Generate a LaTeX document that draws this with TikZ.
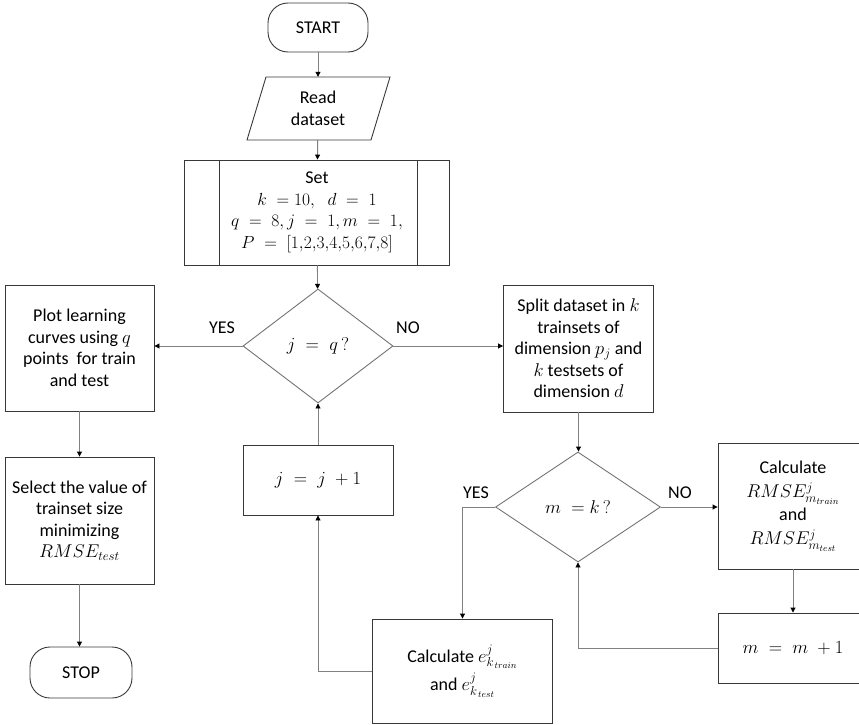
\documentclass[tikz,border=0pt]{standalone}
\usepackage{fix-cm}
\usepackage{fontspec}
\setmainfont{Carlito}
\usetikzlibrary{shapes.geometric,arrows.meta}
\newcommand{\mth}[1]{{\fontsize{18.5}{21.5}\selectfont$#1$}}
\newcommand{\mths}[1]{{\fontsize{17.5}{21.5}\selectfont$#1$}}
\begin{document}
\begin{tikzpicture}[x=1pt,y=-1pt,
  font=\fontsize{18}{21.5}\selectfont,
  box/.style={draw=black!78, line width=0.9pt, rectangle, align=center, inner sep=1pt},
  term/.style={draw=black!78, line width=0.9pt, rectangle, rounded corners=20pt, align=center, inner sep=1pt},
  dec/.style={draw=black!55, line width=0.9pt, diamond, inner sep=0pt, align=center},
  conn/.style={draw=black!50, line width=0.9pt, -{Triangle[length=5pt,width=5pt,fill=black,color=black]}},
  lab/.style={inner sep=0pt}]
\useasboundingbox (0,0) rectangle (859,725);

% nodes
\node[term, minimum width=100pt, minimum height=49pt] (start) at (318,27.5) {START};
\node[inner sep=0pt, minimum width=125pt, minimum height=63pt, align=center] (read) at (318,108.5) {Read\\dataset};
\draw[draw=black!78, line width=0.9pt] (266,77) -- (390,77) -- (371,140) -- (247,140) -- cycle;

\node[box, minimum width=265pt, minimum height=105pt] (set) at (317,212.5)
  {Set\\\mths{k\;=10,\;\;d\;=\;1}\\\mths{q\;=\;8, j\;=\;1, m\;=\;1,}\\\mths{P\;=\;[1{,}2{,}3{,}4{,}5{,}6{,}7{,}8]}};
\draw[draw=black!78, line width=0.9pt] (219,160) -- (219,265) (417,160) -- (417,265);

\node[dec, minimum width=150pt, minimum height=114pt] (d1) at (318,346) {\mth{j\;=\;q\,?}};

\node[box, minimum width=149pt, minimum height=126pt] (plot) at (79.5,348)
  {Plot learning\\curves using \mth{q}\\points\ \ for train\\and test};
\node[box, minimum width=149pt, minimum height=127pt] (select) at (79.5,520.5)
  {Select the value of\\trainset size\\minimizing\\\mth{RMSE_{test}}};
\node[term, minimum width=102pt, minimum height=51pt] (stop) at (81,672.5) {STOP};

\node[box, minimum width=150pt, minimum height=127pt] (split) at (578.5,348.5)
  {Split dataset in \mth{k}\\trainsets of\\dimension \mth{p_j} and\\\mth{k} testsets of\\dimension \mth{d}};

\node[dec, minimum width=165pt, minimum height=110pt] (d2) at (578,507) {\mth{m\;=k\,?}};

\node[box, minimum width=150pt, minimum height=126pt] (rmse) at (793,506)
  {Calculate\\[3pt]\mth{RMSE^{j}_{m_{train}}}\\[1pt]and\\[3pt]\mth{RMSE^{j}_{m_{test}}}};
\node[box, minimum width=150pt, minimum height=70pt] (mm1) at (793,648) {\mth{m\;=\;m\;+1}};

\node[box, minimum width=180pt, minimum height=104pt] (calc) at (462.5,671)
  {Calculate \mth{e^{j}_{k_{\,train}}}\\[4pt]and \mth{e^{j}_{k_{\,test}}}};

\node[box, minimum width=150pt, minimum height=70pt] (jbox) at (318,480) {\mth{j\;=\;j\;+1}};

% labels
\node[lab] (yes1) at (222,328) {YES};
\node[lab] (no1) at (408,328) {NO};
\node[lab] (yes2) at (476,493) {YES};
\node[lab] (no2) at (680,493) {NO};

% connectors
\draw[conn] (start) -- (read);
\draw[conn] (read) -- (set);
\draw[conn] (set) -- (d1);
\draw[conn] (d1.west) -- (d1.west -| plot.east);
\draw[conn] (d1.east) -- (d1.east -| split.west);
\draw[conn] (plot) -- (select);
\draw[conn] (select.south) -- (select.south |- stop.north);
\draw[conn] (split.south) -- (split.south |- d2.north);
\draw[conn] (d2.east) -- (d2.east -| rmse.west);
\draw[conn] (rmse) -- (mm1);
\draw[conn] (mm1.west) -| (d2.south);
\draw[conn] (d2.west) -| (calc.north);
\draw[conn] (calc.west) -| (jbox.south);
\draw[conn] (jbox) -- (d1);
\end{tikzpicture}
\end{document}
